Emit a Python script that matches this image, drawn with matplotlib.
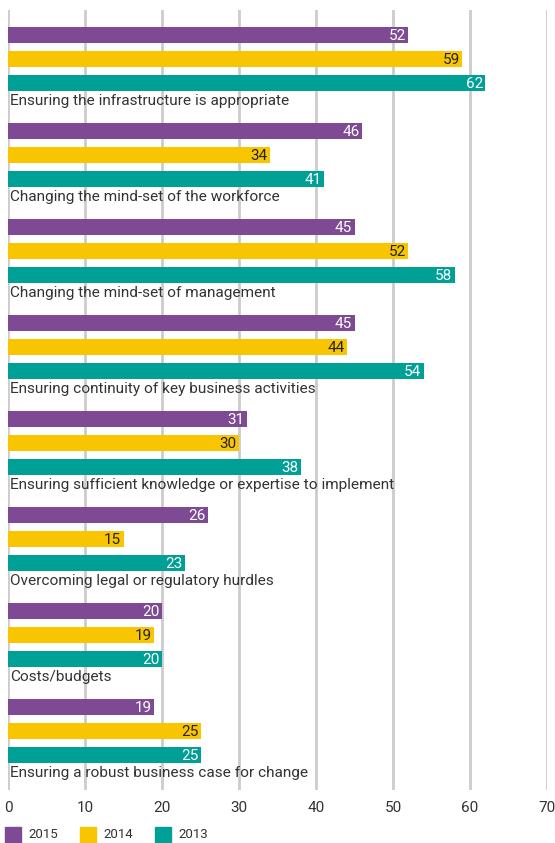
import numpy as np
import matplotlib
matplotlib.use("Agg")
from matplotlib import pyplot as plt
from matplotlib.patches import Rectangle

plt.rcParams['font.family'] = ['Roboto', 'DejaVu Sans']

categories = ['Ensuring the infrastructure is appropriate',
              'Changing the mind-set of the workforce',
              'Changing the mind-set of management',
              'Ensuring continuity of key business activities',
              'Ensuring sufficient knowledge or expertise to implement',
              'Overcoming legal or regulatory hurdles',
              'Costs/budgets',
              'Ensuring a robust business case for change']
years = ['2015', '2014', '2013']
v2015 = [52, 46, 45, 45, 31, 26, 20, 19]
v2014 = [59, 34, 52, 44, 30, 15, 19, 25]
v2013 = [62, 41, 58, 54, 38, 23, 20, 25]
colors = ['#7E4A94', '#F9C500', '#00A096']
text_colors = ['white', '#222222', 'white']
ticks = [0, 10, 20, 30, 40, 50, 60, 70]

W, H = 555, 843
fig = plt.figure(figsize=(W / 100, H / 100), dpi=100)
ax = fig.add_axes([8 / W, 1 - 790 / H, 539 / W, 780 / H])

# layout in pixel-like units: each group 96 tall, bars 16 tall, 24 apart
group_top = np.arange(len(categories)) * 96 + 25
series = [v2015, v2014, v2013]
for s, vals in enumerate(series):
    ys = group_top + s * 24
    ax.barh(ys, vals, height=16, color=colors[s], zorder=3)
    for y, v in zip(ys, vals):
        ax.text(v - 0.3, y + 1, str(v), ha='right', va='center',
                color=text_colors[s], fontsize=11, zorder=4)

for y, c in zip(group_top, categories):
    ax.text(0.25, y + 66, c, ha='left', va='center', color='#333333',
            fontsize=11.1, zorder=4)

ax.set_xlim(0, 70)
ax.set_ylim(780, 0)
for t in ticks:
    ax.axvline(t, color='#cccccc', lw=2, zorder=1)
ax.set_xticks(ticks)
ax.set_xticklabels([str(t) for t in ticks], fontsize=11, color='#333333')
ax.tick_params(axis='x', length=0, pad=8)
ax.set_yticks([])
for sp in ax.spines.values():
    sp.set_visible(False)

# legend squares along the bottom edge
for i, (yr, col) in enumerate(zip(years, colors)):
    x0 = 5 + i * 75
    fig.patches.append(Rectangle((x0 / W, 1 - 843 / H), 16 / W, 16 / H,
                                 transform=fig.transFigure, color=col))
    fig.text((x0 + 23) / W, 1 - 835 / H, yr, ha='left', va='center',
             fontsize=9.5, color='#333333')

fig.savefig('out.png', dpi=100)
